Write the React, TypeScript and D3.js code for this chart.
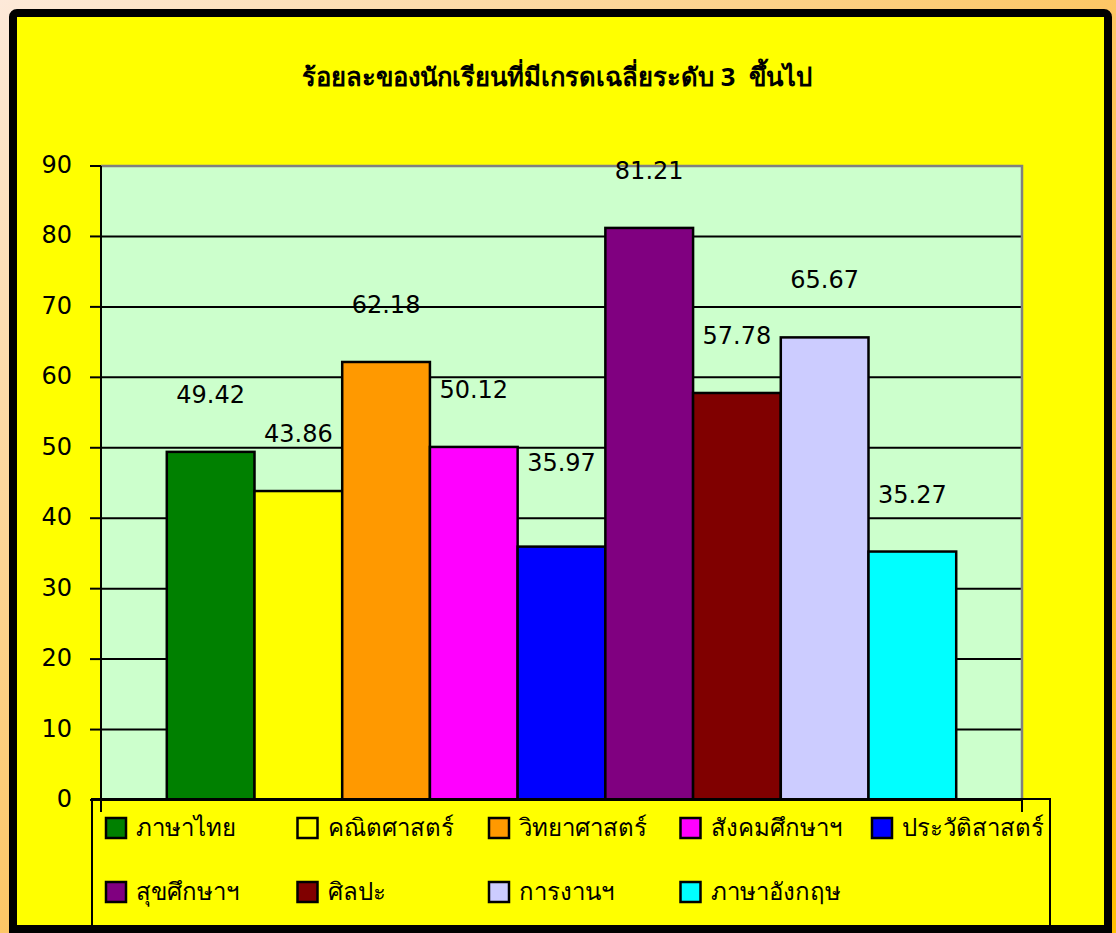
import React from "react";
import * as d3 from "d3";

const subjects = ["ภาษาไทย", "คณิตศาสตร์", "วิทยาศาสตร์", "สังคมศึกษาฯ", "ประวัติสาสตร์", "สุขศึกษาฯ", "ศิลปะ", "การงานฯ", "ภาษาอังกฤษ"];
const percents = [49.42, 43.86, 62.18, 50.12, 35.97, 81.21, 57.78, 65.67, 35.27];
const barColors = ["#008000", "#ffff00", "#ff9900", "#ff00ff", "#0000ff", "#800080", "#800000", "#ccccff", "#00ffff"];
const yTicks = [0, 10, 20, 30, 40, 50, 60, 70, 80, 90];
const title = "ร้อยละของนักเรียนที่มีเกรดเฉลี่ยระดับ 3  ขึ้นไป";

const W = 1116;
const H = 933;
const plot = { left: 101, top: 166, right: 1022, bottom: 800 };
const FONT = "'Noto Sans', 'DejaVu Sans', sans-serif";
const NUMFONT = "'DejaVu Sans', 'Noto Sans', sans-serif";

export default function App() {
  const y = d3.scaleLinear().domain([0, 90]).range([plot.bottom, plot.top]);
  const plotW = plot.right - plot.left;
  const unit = plotW / (subjects.length + 1.5);
  const x = d3
    .scaleBand<string>()
    .domain(subjects)
    .range([plot.left + unit * 0.75, plot.right - unit * 0.75])
    .padding(0);
  const labelLift = (i: number) => (i === 4 ? 83 : 56);

  const legendCols = 5;
  const legendX0 = 105;
  const legendColW = 191.5;
  const legendRowY = [817, 881];

  return (
    <>
      <style>{"body{margin:0}"}</style>
      <svg width={W} height={H} style={{ display: "block" }} fontFamily={FONT}>
        <defs>
          <linearGradient id="bg" x1="0" y1="0" x2="1" y2="1">
            <stop offset="0" stopColor="#fde9d9" />
            <stop offset="0.55" stopColor="#fdc35a" />
            <stop offset="1" stopColor="#ffbf00" />
          </linearGradient>
        </defs>
        <rect x={0} y={0} width={W} height={H} fill="url(#bg)" />
        <rect x={13} y={13} width={1095} height={918} rx={4} fill="#ffff00" stroke="#000" strokeWidth={8} />
        <text
          x={W / 2 - 1}
          y={86}
          textAnchor="middle"
          fontWeight="bold"
          fontSize={25.6}
          fill="#000"
          style={{ whiteSpace: "pre" }}
        >
          {title}
        </text>
        {/* plot area */}
        <rect x={plot.left} y={plot.top} width={plotW} height={plot.bottom - plot.top} fill="#ccffcc" />
        {yTicks.slice(1, -1).map((t) => (
          <line key={t} x1={plot.left} x2={plot.right} y1={y(t)} y2={y(t)} stroke="#000" strokeWidth={2} />
        ))}
        <path
          d={`M${plot.left},${plot.top}H${plot.right}V${plot.bottom}`}
          fill="none"
          stroke="#808080"
          strokeWidth={2.5}
        />
        {subjects.map((s, i) => (
          <rect
            key={s}
            x={x(s)}
            y={y(percents[i])}
            width={x.bandwidth()}
            height={y(0) - y(percents[i])}
            fill={barColors[i]}
            stroke="#000"
            strokeWidth={2.5}
          />
        ))}
        {subjects.map((s, i) => (
          <text
            key={s}
            x={(x(s) as number) + x.bandwidth() / 2}
            y={y(percents[i]) - labelLift(i)}
            textAnchor="middle"
            dominantBaseline="middle"
            fontSize={24}
            fontFamily={NUMFONT}
            fill="#000"
          >
            {percents[i].toFixed(2)}
          </text>
        ))}
        {/* y axis */}
        <line x1={plot.left} x2={plot.left} y1={plot.top} y2={plot.bottom} stroke="#000" strokeWidth={2} />
        {yTicks.map((t) => (
          <g key={t}>
            <line x1={plot.left - 11} x2={plot.left} y1={y(t)} y2={y(t)} stroke="#000" strokeWidth={2} />
            <text
              x={72}
              y={y(t)}
              textAnchor="end"
              dominantBaseline="middle"
              fontSize={24}
              fontFamily={NUMFONT}
              fill="#000"
            >
              {t}
            </text>
          </g>
        ))}
        {/* legend */}
        <rect x={92} y={plot.bottom - 1} width={958} height={140} fill="#ffff00" stroke="#000" strokeWidth={2} />
        <line x1={90} x2={plot.right} y1={plot.bottom} y2={plot.bottom} stroke="#000" strokeWidth={2} />
        <line x1={plot.left} x2={plot.left} y1={plot.bottom} y2={plot.bottom + 12} stroke="#000" strokeWidth={2} />
        <line x1={plot.right} x2={plot.right} y1={plot.bottom} y2={plot.bottom + 12} stroke="#000" strokeWidth={2} />
        {subjects.map((s, i) => {
          const col = i % legendCols;
          const row = Math.floor(i / legendCols);
          const lx = legendX0 + col * legendColW;
          const ly = legendRowY[row];
          return (
            <g key={s}>
              <rect x={lx + 1} y={ly + 1} width={20} height={20} fill={barColors[i]} stroke="#000" strokeWidth={2.5} />
              <text x={lx + 31} y={ly + 13} dominantBaseline="middle" fontSize={24} fill="#000">
                {s}
              </text>
            </g>
          );
        })}
        <rect x={9} y={925} width={1103} height={8} fill="#000" />
      </svg>
    </>
  );
}
